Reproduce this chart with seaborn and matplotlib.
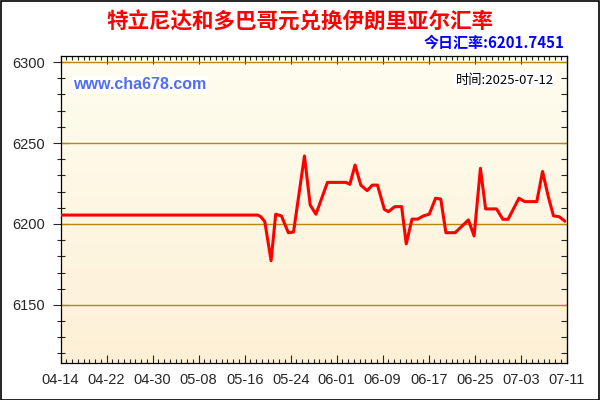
import matplotlib
matplotlib.use("Agg")
from matplotlib import pyplot as plt
from matplotlib.colors import LinearSegmentedColormap
from matplotlib.patches import Rectangle
from matplotlib.ticker import MultipleLocator, FixedLocator
import numpy as np
import pandas as pd
import seaborn as sns

# dni od 04-14 (citane z obrazku) a kurz
days = [0, 34.3, 34.8, 35.5, 36.6, 37.4, 38.4, 39.6, 40.5, 42.4, 43.4, 44.4,
        46.4, 49.6, 50.3, 51.2, 52.2, 53.3, 54.2, 55.1, 56.3, 57.0, 58.1,
        59.3, 60.1, 61.1, 62.1, 63.1, 64.1, 65.2, 66.1, 67.0, 68.6, 70.3,
        70.9, 71.9, 73.0, 73.9, 75.8, 76.9, 77.8, 79.7, 80.7, 82.8, 83.8,
        84.8, 85.7, 86.7, 87.7]
rates = [6205.5, 6205.5, 6204.5, 6201.5, 6177.3, 6206, 6205, 6194.6, 6195,
         6242, 6211.7, 6206, 6225.7, 6225.7, 6224.5, 6236.4, 6224, 6220.6,
         6224, 6224, 6209, 6207.6, 6210.7, 6210.7, 6187.7, 6203, 6203, 6205,
         6206, 6215.9, 6215.4, 6194.6, 6194.6, 6200.4, 6202.5, 6192.6, 6234.4,
         6209.3, 6209.3, 6202.9, 6202.9, 6215.9, 6213.8, 6213.8, 6232.4,
         6216.9, 6205, 6204.5, 6201.7]
tick_days = [0, 8, 16, 24, 32, 40, 48, 56, 64, 72, 80, 88]
tick_labels = ["04-14", "04-22", "04-30", "05-08", "05-16", "05-24",
               "06-01", "06-09", "06-17", "06-25", "07-03", "07-11"]
y_ticks = [6150, 6200, 6250, 6300]

title = "特立尼达和多巴哥元兑换伊朗里亚尔汇率"
today = "今日汇率:6201.7451"
stamp = "时间:2025-07-12"
site = "www.cha678.com"

df = pd.DataFrame({"day": days, "rate": rates})

sns.set_style("ticks")
plt.rcParams["font.family"] = ["Liberation Sans", "Noto Sans CJK SC",
                               "DejaVu Sans"]
cjk = ["Noto Sans CJK SC", "DejaVu Sans"]

fig = plt.figure(figsize=(6, 4), dpi=100)
fig.patch.set_facecolor("white")
ax = fig.add_axes([0.101, 0.092, 0.8435, 0.769])

# gradient pozadia
cmap = LinearSegmentedColormap.from_list("bg", ["#fdf0d6", "#fffdf0"])
grad = np.linspace(0, 1, 256).reshape(-1, 1)
ax.imshow(grad, extent=[0, 1, 0, 1], transform=ax.transAxes, aspect="auto",
          cmap=cmap, origin="lower", zorder=0)

for y in y_ticks:
    ax.axhline(y, color="#b8860b", lw=1, zorder=1)

sns.lineplot(data=df, x="day", y="rate", color="#ff0000", lw=2.2, ax=ax,
             zorder=3)

ax.set_xlim(0, 88)
ax.set_ylim(6114, 6304)
ax.set_xlabel("")
ax.set_ylabel("")

# osi a ticky
ax.xaxis.set_major_locator(FixedLocator(tick_days))
ax.set_xticklabels(tick_labels)
ax.xaxis.set_minor_locator(MultipleLocator(1))
ax.yaxis.set_major_locator(FixedLocator(y_ticks))
ax.yaxis.set_minor_locator(MultipleLocator(10))
ax.tick_params(axis="x", which="major", direction="in", length=6, width=0.8,
               top=True, labelsize=10.5, pad=7)
ax.tick_params(axis="x", which="minor", direction="in", length=3, width=0.8,
               top=True)
ax.tick_params(axis="y", which="major", direction="inout", length=12,
               width=0.8, labelsize=10.5, pad=5)
ax.tick_params(axis="y", which="minor", direction="inout", length=6,
               width=0.8)

# prava os s tickami dovnutra
sec = ax.secondary_yaxis("right")
sec.yaxis.set_major_locator(MultipleLocator(10))
sec.tick_params(direction="in", length=4, width=0.8, labelright=False)

for s in ax.spines.values():
    s.set_color("black")
    s.set_linewidth(0.9)

# texty
fig.text(0.5, 0.945, title, ha="center", va="center", color="#ff0000",
         fontsize=15.5, fontweight="bold", family=cjk)
fig.text(0.94, 0.893, today, ha="right", va="center", color="#0000ff",
         fontsize=10.8, fontweight="bold", family=cjk)
ax.text(0.025, 0.905, site, transform=ax.transAxes, ha="left", va="center",
        color="#4f6ff0", fontsize=11.5, fontweight="bold",
        family=["Liberation Sans"],
        bbox=dict(facecolor="white", edgecolor="none", pad=1))
ax.text(0.975, 0.92, stamp, transform=ax.transAxes, ha="right", va="center",
        color="black", fontsize=9.5, family=cjk,
        bbox=dict(facecolor="white", edgecolor="none", pad=1))

# ramik okolo obrazku
fig.patches.append(Rectangle((0.001, 0.001), 0.997, 0.997,
                             transform=fig.transFigure, fill=False,
                             edgecolor="black", lw=1.2))

fig.savefig("out.png", dpi=100)
plt.close()
